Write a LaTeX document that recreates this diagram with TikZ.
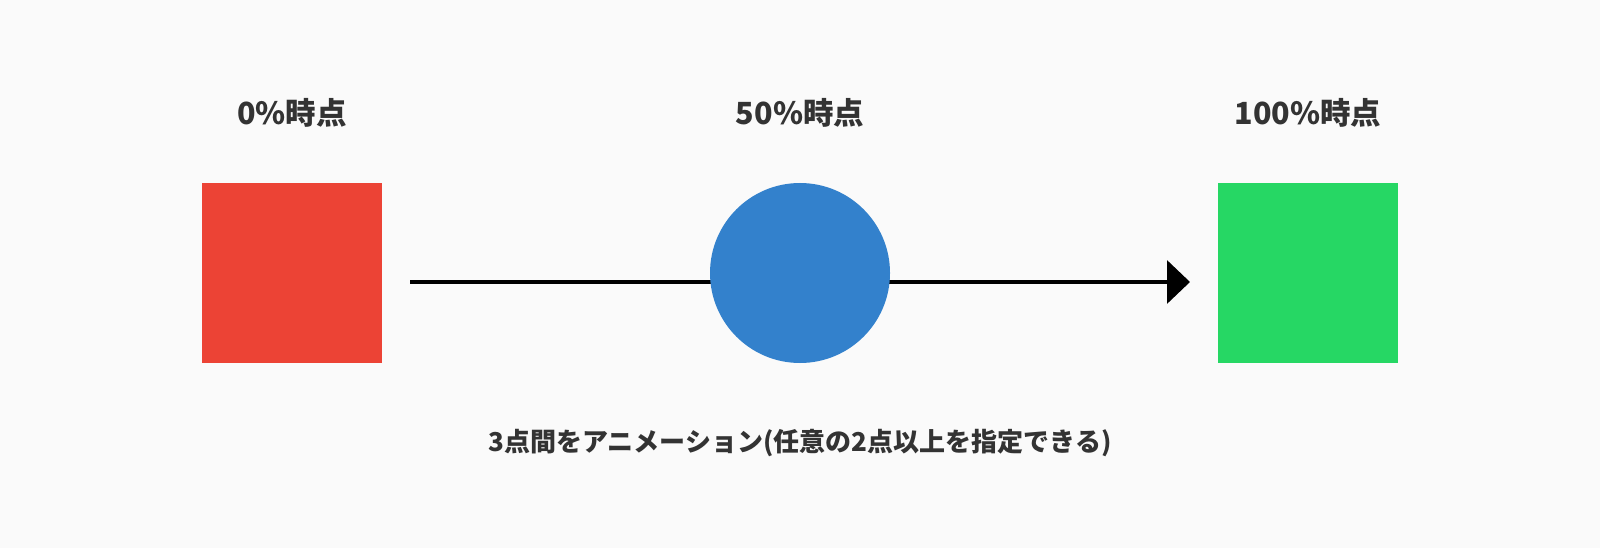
\documentclass[tikz,border=0pt]{standalone}
\usepackage{fontspec}
\setmainfont{Noto Sans CJK JP}
\usetikzlibrary{arrows.meta}
\definecolor{bg}{HTML}{FAFAFA}
\definecolor{txt}{HTML}{333333}
\definecolor{redc}{HTML}{EC4335}
\definecolor{bluec}{HTML}{3381CC}
\definecolor{greenc}{HTML}{26D764}
\tikzset{
  box/.style={rectangle, inner sep=0pt, minimum width=180pt, minimum height=180pt},
  ball/.style={circle, inner sep=0pt, minimum size=180pt},
  label/.style={text=txt, font=\bfseries\fontsize{30.5}{36}\selectfont, inner sep=0pt},
  note/.style={text=txt, font=\bfseries\fontsize{26}{30}\selectfont, inner sep=0pt},
  conn/.style={draw=black, line width=3.5pt, -{Triangle[length=23pt,width=43pt]}}
}
\begin{document}
\begin{tikzpicture}[x=1pt, y=-1pt]
\fill[bg] (0,0) rectangle (1600,548);
\useasboundingbox (0,0) rectangle (1600,548);
\coordinate (start) at (410,282);
\coordinate (end) at (1190,282);
\draw[conn] (start) -- (end);
\node[box, fill=redc] (red) at (292,273) {};
\node[ball, fill=bluec] (mid) at (800,273) {};
\node[box, fill=greenc] (green) at (1308,273) {};
\node[label] (l0) at (292,113) {0\%時点};
\node[label] (l50) at (800,113) {50\%時点};
\node[label] (l100) at (1308,113) {100\%時点};
\node[note] (caption) at (800,443) {3点間をアニメーション(任意の2点以上を指定できる)};
\end{tikzpicture}
\end{document}
